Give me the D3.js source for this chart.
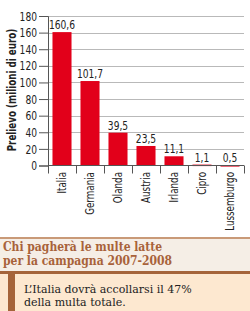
<!DOCTYPE html>
<html>
<head>
  <meta charset="UTF-8">
  <style>
    body { margin: 0; padding: 0; background: #fff; }
    svg { display: block; }
    .narrow { font-family: "Liberation Sans Narrow", "DejaVu Sans Condensed", sans-serif; font-stretch: condensed; }
    .serif { font-family: "DejaVu Serif", serif; }
    .serifc { font-family: "DejaVu Serif Condensed", "DejaVu Serif", serif; font-stretch: condensed; }
  </style>
</head>
<body>
<svg></svg>
<script src="https://d3js.org/d3.v7.min.js"></script>
<script>
  let width = 250, height = 311;

  // dati
  let paesi = ["Italia", "Germania", "Olanda", "Austria", "Irlanda", "Cipro", "Lussemburgo"];
  let prelievo = [160.6, 101.7, 39.5, 23.5, 11.1, 1.1, 0.5];
  let etichette = ["160,6", "101,7", "39,5", "23,5", "11,1", "1,1", "0,5"];
  let yTicks = [0, 20, 40, 60, 80, 100, 120, 140, 160, 180];

  let sx = 0.78; // compressione orizzontale del testo (font stretto)

  let svg = d3.select("svg").attr("width", width).attr("height", height);

  let x = d3.scaleBand().domain(paesi).range([48, 244]).paddingInner(0.32).paddingOuter(0.16);
  let y = d3.scaleLinear().domain([0, 180]).range([165.5, 16]);

  // griglia
  svg.append("g").selectAll("line").data(yTicks.slice(1)).enter().append("line")
    .attr("x1", 48).attr("x2", 244)
    .attr("y1", d => Math.round(y(d)) + 0.5).attr("y2", d => Math.round(y(d)) + 0.5)
    .attr("stroke", "#b9b9b9").attr("stroke-width", 1);

  // barre
  svg.append("g").selectAll("rect").data(prelievo).enter().append("rect")
    .attr("x", (d, i) => x(paesi[i]))
    .attr("width", x.bandwidth())
    .attr("y", d => y(d))
    .attr("height", d => Math.max(1.5, y(0) - y(d)))
    .attr("fill", "#e2001a");

  // etichette valori
  svg.append("g").selectAll("text").data(prelievo).enter().append("text")
    .attr("class", "narrow")
    .attr("transform", (d, i) => `translate(${x(paesi[i]) + x.bandwidth() / 2},${y(d) - 3}) scale(${sx},1)`)
    .attr("text-anchor", "middle")
    .attr("font-size", "13px")
    .attr("fill", "#222")
    .text((d, i) => etichette[i]);

  // asse y
  let yAxis = d3.axisLeft(y).tickValues(yTicks).tickSize(9).tickPadding(2);
  let gy = svg.append("g").attr("transform", "translate(48,0)").call(yAxis);
  gy.select(".domain").attr("stroke", "#555");
  gy.selectAll(".tick line").attr("stroke", "#555");
  gy.selectAll("text")
    .attr("class", "narrow").attr("font-size", "13px").attr("fill", "#222")
    .attr("x", null)
    .attr("transform", `translate(-11,0) scale(${sx},1)`);

  // asse x
  svg.append("line").attr("x1", 48).attr("x2", 244).attr("y1", y(0)).attr("y2", y(0))
    .attr("stroke", "#555");
  let sep = paesi.map(p => x(p) - x.step() * x.paddingInner() / 2).concat([244]);
  svg.append("g").selectAll("line").data(sep).enter().append("line")
    .attr("x1", d => Math.round(d) + 0.5).attr("x2", d => Math.round(d) + 0.5)
    .attr("y1", y(0)).attr("y2", y(0) + 8)
    .attr("stroke", "#555");

  svg.append("g").selectAll("text").data(paesi).enter().append("text")
    .attr("class", "narrow")
    .attr("transform", d => `translate(${x(d) + x.bandwidth() / 2 + 4},172) rotate(-90) scale(${sx},1)`)
    .attr("text-anchor", "end")
    .attr("font-size", "12.5px")
    .attr("fill", "#222")
    .text(d => d);

  // titolo asse y
  svg.append("text")
    .attr("class", "narrow")
    .attr("transform", `translate(16,90) rotate(-90) scale(${sx},1)`)
    .attr("text-anchor", "middle")
    .attr("font-size", "12.5px")
    .attr("font-weight", "bold")
    .attr("fill", "#222")
    .text("Prelievo (milioni di euro)");

  // box in basso
  svg.append("rect").attr("x", 0).attr("y", 238).attr("width", width).attr("height", 34).attr("fill", "#f5eee6");
  svg.append("rect").attr("x", 0).attr("y", 272).attr("width", width).attr("height", 39).attr("fill", "#fde8d0");
  svg.append("rect").attr("x", 0).attr("y", 237).attr("width", width).attr("height", 2).attr("fill", "#c99a78");
  svg.append("rect").attr("x", 0).attr("y", 271).attr("width", width).attr("height", 3).attr("fill", "#a5643a");
  svg.append("rect").attr("x", 8).attr("y", 272).attr("width", 7).attr("height", 39).attr("fill", "#a5643a");

  svg.append("text").attr("class", "serifc")
    .attr("x", 3).attr("y", 251)
    .attr("font-size", "12px").attr("font-weight", "bold").attr("fill", "#a8623a")
    .text("Chi pagherà le multe latte");
  svg.append("text").attr("class", "serifc")
    .attr("x", 3).attr("y", 265)
    .attr("font-size", "12px").attr("font-weight", "bold").attr("fill", "#a8623a")
    .text("per la campagna 2007-2008");

  svg.append("text").attr("class", "serif")
    .attr("x", 24).attr("y", 293)
    .attr("font-size", "11px").attr("fill", "#222")
    .text("L’Italia dovrà accollarsi il 47%");
  svg.append("text").attr("class", "serif")
    .attr("x", 24).attr("y", 306)
    .attr("font-size", "11px").attr("fill", "#222")
    .text("della multa totale.");
</script>
</body>
</html>
